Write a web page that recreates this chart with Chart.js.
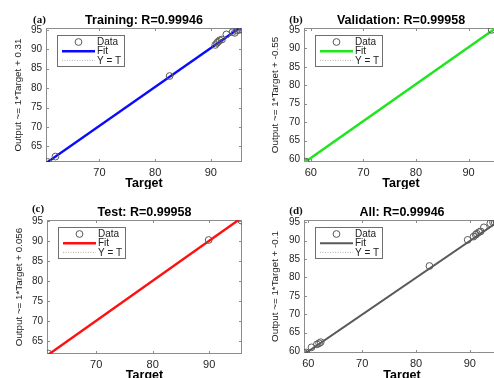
<!DOCTYPE html>
<html><head><meta charset="utf-8">
<script src="https://cdn.jsdelivr.net/npm/chart.js@4.4.1/dist/chart.umd.min.js"></script>
<style>
html,body{margin:0;padding:0;background:#fff;width:494px;height:378px;overflow:hidden;position:relative}
canvas{position:absolute}
</style></head><body>
<canvas id="ca" width="247" height="189" style="left:0;top:0"></canvas>
<canvas id="cb" width="260" height="189" style="left:247px;top:0"></canvas>
<canvas id="cc" width="247" height="200" style="left:0;top:189px"></canvas>
<canvas id="cd" width="260" height="200" style="left:247px;top:189px"></canvas>
<script>
// ---- data ----
const trainTarget = [60.7, 62.1, 82.6, 90.8, 91.1, 91.3, 91.6, 92.0, 92.8, 93.9, 94.3, 94.7, 95.1, 95.4, 95.6];
const trainOutput = [61.0, 62.4, 83.1, 91.1, 91.6, 91.9, 92.3, 92.5, 93.8, 94.4, 94.2, 94.8, 95.0, 95.9, 95.0];
const trainFitX = [60.4, 95.6];
const trainFitY = [60.71, 95.91];
const trainIdentity = [60.4, 95.6];

const valTarget = [59.0, 94.4];
const valOutput = [59.3, 95.0];
const valFitX = [58.7, 95.6];
const valFitY = [59.0, 95.9];
const valIdentity = [58.7, 95.6];

const testTarget = [61.55, 89.9, 95.7];
const testOutput = [61.85, 90.25, 95.1];
const testFitX = [61.3, 95.8];
const testFitY = [61.36, 95.86];
const testIdentity = [61.3, 95.8];

const allTarget = [59.3, 59.6, 60.6, 61.6, 62.0, 62.3, 82.5, 89.6, 90.7, 91.1, 91.3, 91.7, 92.0, 92.6, 93.8, 94.3, 94.6, 95.0];
const allOutput = [59.4, 59.6, 61.0, 61.8, 62.1, 62.4, 83.1, 90.2, 91.1, 91.6, 91.9, 92.3, 92.5, 93.6, 94.7, 95.0, 95.1, 95.3];
const allFitX = [59.2, 95.6];
const allFitY = [59.1, 95.5];
const allIdentity = [59.2, 95.6];

const xTicksA = [70, 80, 90];
const yTicksA = [65, 70, 75, 80, 85, 90, 95];
const xTicksB = [60, 70, 80, 90];
const yTicksB = [60, 65, 70, 75, 80, 85, 90, 95];
const xTicksC = [70, 80, 90];
const yTicksC = [65, 70, 75, 80, 85, 90, 95];
const xTicksD = [60, 70, 80, 90];
const yTicksD = [60, 65, 70, 75, 80, 85, 90, 95];

const titles = ['Training: R=0.99946', 'Validation: R=0.99958', 'Test: R=0.99958', 'All: R=0.99946'];
const yLabels = ['Output ~= 1*Target + 0.31', 'Output ~= 1*Target + -0.55', 'Output ~= 1*Target + 0.056', 'Output ~= 1*Target + -0.1'];
const letters = ['(a)', '(b)', '(c)', '(d)'];
const legendLabels = ['Data', 'Fit', 'Y = T'];

const FAM = '"Liberation Sans", Arial, sans-serif';
const AXC = '#8c8c8c';

const matlabPlugin = {
  id: 'matlab',
  beforeDatasetsDraw(chart, args, o) {
    const {ctx, chartArea: a, scales: {x, y}} = chart;
    ctx.save();
    ctx.strokeStyle = AXC; ctx.lineWidth = 1;
    const L = Math.round(a.left) + 0.5, T = Math.round(a.top) + 0.5;
    const R = Math.round(a.right) - 0.5, B = Math.round(a.bottom) - 0.5;
    ctx.strokeRect(L, T, R - L, B - T);
    const tl = 2.5;
    ctx.beginPath();
    x.ticks.forEach(t => {
      const px = Math.round(x.getPixelForValue(t.value)) + 0.5;
      ctx.moveTo(px, B); ctx.lineTo(px, B - tl);
      ctx.moveTo(px, T); ctx.lineTo(px, T + tl);
    });
    y.ticks.forEach(t => {
      const py = Math.round(y.getPixelForValue(t.value)) + 0.5;
      ctx.moveTo(L, py); ctx.lineTo(L + tl, py);
      ctx.moveTo(R, py); ctx.lineTo(R - tl, py);
    });
    ctx.stroke();
    ctx.restore();
  },
  afterDatasetsDraw(chart, args, o) {
    const {ctx, chartArea: a} = chart;
    const ds = chart.data.datasets;
    ctx.save();
    const lx = Math.round(a.left + 11) + 0.5, ly = Math.round(a.top + 6.5) + 0.5;
    ctx.fillStyle = '#fff';
    ctx.fillRect(lx, ly, 67, 31);
    ctx.strokeStyle = '#6f6f6f'; ctx.lineWidth = 1;
    ctx.strokeRect(lx, ly, 67, 31);
    const rows = [a.top + 14, a.top + 23.2, a.top + 32.4];
    // Data symbol
    ctx.beginPath();
    ctx.arc(a.left + 32.5, rows[0], 3.4, 0, Math.PI * 2);
    ctx.strokeStyle = ds[0].borderColor; ctx.lineWidth = 1; ctx.stroke();
    // Fit symbol
    ctx.beginPath();
    ctx.moveTo(a.left + 16, rows[1]); ctx.lineTo(a.left + 49, rows[1]);
    ctx.strokeStyle = ds[1].borderColor; ctx.lineWidth = ds[1].borderWidth; ctx.stroke();
    // Y=T symbol
    ctx.beginPath();
    ctx.setLineDash([1, 1.5]);
    ctx.moveTo(a.left + 16, rows[2]); ctx.lineTo(a.left + 49, rows[2]);
    ctx.strokeStyle = '#b0b0b0'; ctx.lineWidth = 1; ctx.stroke();
    ctx.setLineDash([]);
    ctx.fillStyle = '#222';
    ctx.font = '10px ' + FAM;
    ctx.textBaseline = 'middle'; ctx.textAlign = 'left';
    for (let i = 0; i < 3; i++) ctx.fillText(ds[i].label, a.left + 51, rows[i] + 0.5);
    ctx.restore();
  },
  afterDraw(chart, args, o) {
    const {ctx} = chart;
    ctx.save();
    ctx.font = 'bold 11px "Liberation Serif", "Times New Roman", serif';
    ctx.fillStyle = '#111';
    ctx.textAlign = 'center'; ctx.textBaseline = 'middle';
    ctx.fillText(o.letter, o.lx, o.ly);
    ctx.restore();
  }
};

function pts(xs, ys) { return xs.map((v, i) => ({x: v, y: ys[i]})); }

function makePanel(id, p) {
  new Chart(document.getElementById(id), {
    type: 'scatter',
    data: {
      datasets: [
        {label: legendLabels[0], data: pts(p.tx, p.ty), showLine: false, pointRadius: 3.4,
         pointBorderWidth: 1, borderColor: '#5a5a5a', pointBorderColor: '#5a5a5a',
         backgroundColor: 'rgba(0,0,0,0)', pointBackgroundColor: 'rgba(0,0,0,0)', order: 0},
        {label: legendLabels[1], data: pts(p.fx, p.fy), showLine: true, pointRadius: 0,
         borderColor: p.fitColor, borderWidth: p.fitWidth, order: 1},
        {label: legendLabels[2], data: pts(p.id, p.id), showLine: true, pointRadius: 0,
         borderColor: '#b0b0b0', borderWidth: 1, borderDash: [1, 1.5], order: 2}
      ]
    },
    options: {
      responsive: false, animation: false, devicePixelRatio: 1,
      layout: {padding: {left: 0, right: p.padR, top: 0, bottom: 0}},
      plugins: {
        legend: {display: false}, tooltip: {enabled: false},
        title: {display: true, text: p.title, fullSize: false, color: '#000',
                font: {family: FAM, size: 12.5, weight: 'bold', lineHeight: 1.2},
                padding: {top: p.titlePadTop, bottom: p.titlePadBottom}},
        matlab: {letter: p.letter, lx: p.lx, ly: p.ly}
      },
      scales: {
        x: {
          type: 'linear', min: p.xr[0], max: p.xr[1],
          afterBuildTicks: s => { s.ticks = p.xt.map(v => ({value: v})); },
          afterFit: s => { s.height = p.xAxisH; },
          grid: {display: false, drawTicks: false}, border: {display: false},
          ticks: {padding: 4, color: '#262626', font: {family: FAM, size: 11}, maxRotation: 0, autoSkip: false},
          title: {display: true, text: 'Target', color: '#000',
                  font: {family: FAM, size: 12.5, weight: 'bold', lineHeight: 1.2},
                  padding: {top: 0, bottom: p.xTitlePad}}
        },
        y: {
          type: 'linear', min: p.yr[0], max: p.yr[1],
          afterBuildTicks: s => { s.ticks = p.yt.map(v => ({value: v})); },
          afterFit: s => { s.width = p.yAxisW; },
          grid: {display: false, drawTicks: false}, border: {display: false},
          ticks: {padding: 4, color: '#262626', font: {family: FAM, size: 10}, autoSkip: false},
          title: {display: true, text: p.yLabel, color: '#1a1a1a',
                  font: {family: FAM, size: 9.8, lineHeight: 1.2},
                  padding: {top: p.yTitlePad, bottom: 0}}
        }
      }
    },
    plugins: [matlabPlugin]
  });
}

makePanel('ca', {tx: trainTarget, ty: trainOutput, fx: trainFitX, fy: trainFitY, id: trainIdentity,
  fitColor: '#0a0aff', fitWidth: 2.4, xr: [60.4, 95.6], yr: [61.0, 95.45], xt: xTicksA, yt: yTicksA,
  title: titles[0], yLabel: yLabels[0], letter: letters[0], lx: 39.5, ly: 20.5,
  padR: 5, yAxisW: 46, xAxisH: 27, titlePadTop: 13, titlePadBottom: 0, xTitlePad: -2, yTitlePad: 12.3});
makePanel('cb', {tx: valTarget, ty: valOutput, fx: valFitX, fy: valFitY, id: valIdentity,
  fitColor: '#1ee61e', fitWidth: 2.4, xr: [58.7, 95.6], yr: [59.2, 95.5], xt: xTicksB, yt: yTicksB,
  title: titles[1], yLabel: yLabels[1], letter: letters[1], lx: 49, ly: 20,
  padR: 9, yAxisW: 57, xAxisH: 27, titlePadTop: 13, titlePadBottom: 0, xTitlePad: -2, yTitlePad: 22.5});
makePanel('cc', {tx: testTarget, ty: testOutput, fx: testFitX, fy: testFitY, id: testIdentity,
  fitColor: '#ff1010', fitWidth: 2.4, xr: [61.3, 95.8], yr: [61.75, 95.25], xt: xTicksC, yt: yTicksC,
  title: titles[2], yLabel: yLabels[2], letter: letters[2], lx: 38, ly: 20,
  padR: 5, yAxisW: 47, xAxisH: 35, titlePadTop: 16, titlePadBottom: 0, xTitlePad: 6, yTitlePad: 13.3});
makePanel('cd', {tx: allTarget, ty: allOutput, fx: allFitX, fy: allFitY, id: allIdentity,
  fitColor: '#5a5a5a', fitWidth: 2.0, xr: [59.2, 95.6], yr: [59.46, 95.6], xt: xTicksD, yt: yTicksD,
  title: titles[3], yLabel: yLabels[3], letter: letters[3], lx: 49, ly: 22.5,
  padR: 7, yAxisW: 57, xAxisH: 36, titlePadTop: 16, titlePadBottom: 0, xTitlePad: 6, yTitlePad: 22.6});
</script>
</body></html>
